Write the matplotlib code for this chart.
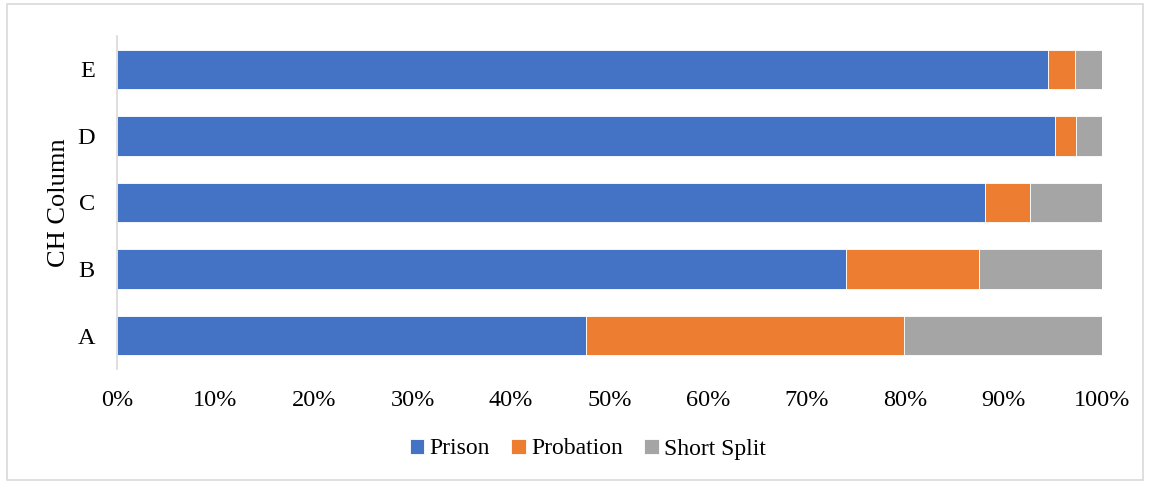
import matplotlib.pyplot as plt
import numpy as np
from matplotlib.patches import Rectangle

plt.rcParams['font.family'] = ['Liberation Serif', 'DejaVu Serif']

# datos (porcentajes)
categorias = ['A', 'B', 'C', 'D', 'E']
prison = [47.6, 74.0, 88.1, 95.2, 94.5]
probation = [32.3, 13.5, 4.6, 2.2, 2.8]
short_split = [20.1, 12.5, 7.3, 2.6, 2.7]

azul = '#4472c4'
naranja = '#ed7d31'
gris = '#a5a5a5'

fig = plt.figure(figsize=(11.49, 4.83), dpi=100)
ax = fig.add_axes([117/1149, 1 - 369/483, (1102 - 117)/1149, (369 - 36)/483])

y = np.arange(len(categorias))
h = 0.59
p = np.array(prison)
pr = np.array(probation)
s = np.array(short_split)
ax.barh(y, p, height=h, color=azul, label='Prison', edgecolor='white', linewidth=0.6)
ax.barh(y, pr, left=p, height=h, color=naranja, label='Probation', edgecolor='white', linewidth=0.6)
ax.barh(y, s, left=p + pr, height=h, color=gris, label='Short Split', edgecolor='white', linewidth=0.6)

ax.set_xlim(0, 100)
ax.set_ylim(-0.5, 4.5)
ax.set_xticks(np.arange(0, 101, 10))
ax.set_xticklabels([str(v) + '%' for v in range(0, 101, 10)], fontsize=17.5)
ax.set_yticks(y)
ax.set_yticklabels(categorias, fontsize=17.5)
ax.tick_params(length=0)
ax.tick_params(axis='x', pad=15)
ax.tick_params(axis='y', pad=16)
ax.set_ylabel('CH Column', fontsize=19, labelpad=5)

for lado in ['top', 'right', 'bottom']:
    ax.spines[lado].set_visible(False)
ax.spines['left'].set_color('#d9d9d9')
ax.spines['left'].set_linewidth(1.2)

fig.legend(loc='center', bbox_to_anchor=(588/1149, 1 - 449/483), ncol=3, frameon=False,
           fontsize=17, handlelength=0.6, handleheight=0.6, handletextpad=0.25, columnspacing=0.9)

# borde del area del grafico
fig.patches.append(Rectangle((7/1149, 3/483), 1136/1149, 476/483, transform=fig.transFigure,
                             fill=False, edgecolor='#d9d9d9', linewidth=1.2))

plt.savefig('out.png', dpi=100)
